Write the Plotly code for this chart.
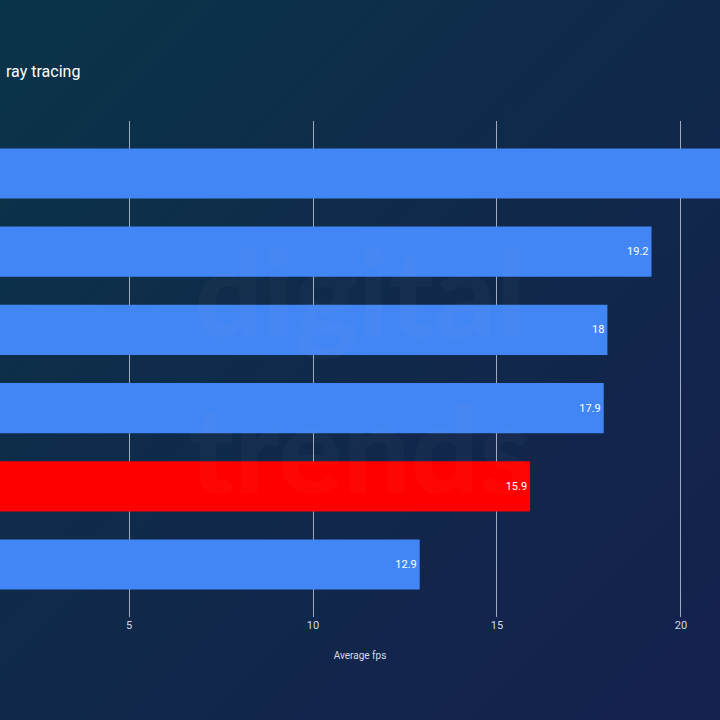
import base64
import plotly.graph_objects as go

# Data (category names are cropped out of the reference; kept as hidden labels)
gpus = ["GPU 1", "GPU 2", "GPU 3", "GPU 4", "GPU 5", "GPU 6"]
fps = [21.8, 19.2, 18.0, 17.9, 15.9, 12.9]
bar_colors = ["#4285f4", "#4285f4", "#4285f4", "#4285f4", "#ff0000", "#4285f4"]
tick_vals = [5, 10, 15, 20]

svg = """<svg xmlns='http://www.w3.org/2000/svg' width='720' height='720'>
<defs><linearGradient id='g' x1='0' y1='0' x2='1' y2='1'>
<stop offset='0' stop-color='#0a3449'/>
<stop offset='0.5' stop-color='#10294a'/>
<stop offset='1' stop-color='#15204f'/>
</linearGradient></defs>
<rect width='720' height='720' fill='url(#g)'/></svg>"""
bg_uri = "data:image/svg+xml;base64," + base64.b64encode(svg.encode()).decode()

TOP, BOTTOM = 121, 103
plot_h = 720 - TOP - BOTTOM

fig = go.Figure()
fig.add_trace(go.Bar(
    y=gpus, x=fps, orientation="h",
    marker=dict(color=bar_colors, line=dict(width=0)),
    width=0.64,
    text=[f"{v:g}" for v in fps],
    textposition="inside", insidetextanchor="end",
    textfont=dict(color="#ffffff", size=11, family="Roboto"),
    cliponaxis=True,
))

fig.update_layout(
    width=720, height=720,
    margin=dict(l=0, r=0, t=TOP, b=BOTTOM, pad=0),
    paper_bgcolor="#10294a",
    plot_bgcolor="rgba(0,0,0,0)",
    showlegend=False,
    images=[dict(source=bg_uri, xref="paper", yref="paper",
                 x=0, y=1 + TOP / plot_h,
                 sizex=1, sizey=720 / plot_h, xanchor="left", yanchor="top",
                 sizing="stretch", layer="below")],
    xaxis=dict(
        range=[1.4946, 21.06],
        tickvals=tick_vals,
        showgrid=True, gridcolor="rgba(205,215,230,0.75)", gridwidth=1,
        zeroline=False, showline=False, ticks="",
        tickfont=dict(color="#d3dae6", size=11, family="Roboto"),
        title=dict(text="Average fps", font=dict(color="#d3dae6", size=10, family="Roboto"), standoff=20),
    ),
    yaxis=dict(
        categoryorder="array", categoryarray=gpus,
        range=[5.67, -0.67],
        showticklabels=False, showgrid=False, zeroline=False, showline=False, ticks="",
    ),
    annotations=[
        dict(text="ray tracing", xref="paper", yref="paper", x=0.006, y=1.0,
             xanchor="left", yanchor="bottom", yshift=38, showarrow=False,
             font=dict(color="#ffffff", size=16, family="Roboto")),
        dict(text="<b>digital<br>trends</b>", xref="paper", yref="paper",
             x=0.5, y=0.5, xanchor="center", yanchor="middle", showarrow=False,
             font=dict(color="rgba(255,255,255,0.022)", size=120, family="Lato Black, Lato"),
             align="center"),
    ],
)

fig.write_html("out.html")
